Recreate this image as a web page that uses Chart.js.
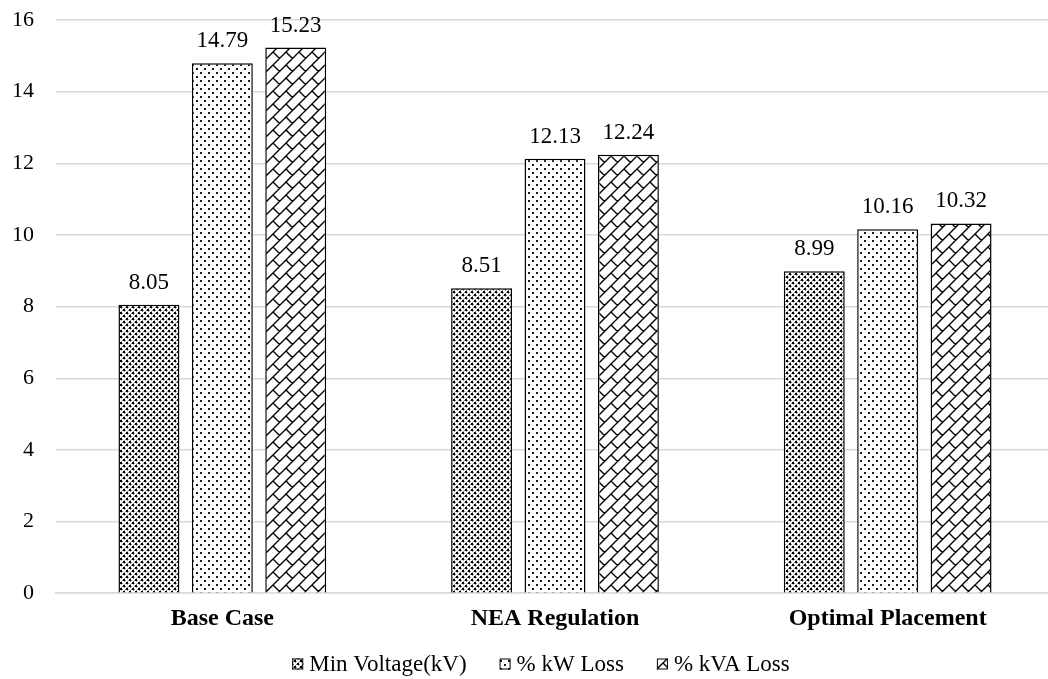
<!DOCTYPE html>
<html>
<head>
<meta charset="utf-8">
<script src="https://cdn.jsdelivr.net/npm/chart.js@4/dist/chart.umd.min.js"></script>
<style>
  html, body { margin: 0; padding: 0; background: #ffffff; overflow: hidden; }
  #wrap { width: 1048px; height: 679px; overflow: hidden; }
</style>
</head>
<body>
<div id="wrap"><canvas id="chart" width="1054" height="679"></canvas></div>
<script>
const categories = ['Base Case', 'NEA Regulation', 'Optimal Placement'];
const seriesNames = ['Min Voltage(kV)', '% kW Loss', '% kVA Loss'];
const minVoltage = [8.05, 8.51, 8.99];
const kwLoss = [14.79, 12.13, 10.16];
const kvaLoss = [15.23, 12.24, 10.32];
const yTicks = [0, 2, 4, 6, 8, 10, 12, 14, 16];

const FONT = '"Liberation Serif", "Times New Roman", serif';

function tile(size, draw) {
  const c = document.createElement('canvas');
  c.width = size; c.height = size;
  const g = c.getContext('2d');
  g.fillStyle = '#ffffff';
  g.fillRect(0, 0, size, size);
  draw(g, size);
  return document.getElementById('chart').getContext('2d').createPattern(c, 'repeat');
}

// dense checker lattice
const checkerFill = tile(6, (g) => {
  g.fillStyle = '#000000';
  g.fillRect(0, 0, 2, 2);
  g.fillRect(3, 3, 2, 2);
  g.fillStyle = '#8a8a8a';
  [[2, 1], [1, 2], [5, 4], [4, 5], [2, 4], [4, 2], [5, 1], [1, 5]].forEach(([x, y]) => g.fillRect(x, y, 1, 1));
});

// sparse staggered dots
const dotFill = tile(8, (g) => {
  g.fillStyle = '#1a1a1a';
  g.fillRect(0, 0, 2, 2);
  g.fillRect(4, 4, 2, 2);
});

// diagonal weave: rising lines with staggered short cross ticks
const weaveFill = tile(26, (g) => {
  g.strokeStyle = '#000000';
  g.lineWidth = 1.4;
  g.beginPath();
  for (let k = -3; k <= 6; k++) {
    const s = 13 * k;
    g.moveTo(s + 30, -30);
    g.lineTo(s - 30, 30);
    for (let a = -52; a <= 78; a += 13) {
      const x = a, y = s - a;
      g.moveTo(x, y);
      g.lineTo(x + 6.5, y + 6.5);
    }
  }
  g.stroke();
});

const valueLabels = {
  id: 'valueLabels',
  afterDatasetsDraw(chart) {
    const ctx = chart.ctx;
    ctx.save();
    ctx.font = '23px ' + FONT;
    ctx.fillStyle = '#000000';
    ctx.textAlign = 'center';
    ctx.textBaseline = 'alphabetic';
    chart.data.datasets.forEach((ds, i) => {
      const meta = chart.getDatasetMeta(i);
      meta.data.forEach((bar, j) => {
        ctx.fillText(ds.data[j].toFixed(2), bar.x, bar.y - 16);
      });
    });
    ctx.restore();
  }
};

// single-row legend under the axis: small patterned box, tight gap, label
const bottomLegend = {
  id: 'bottomLegend',
  afterDraw(chart) {
    const ctx = chart.ctx;
    const box = 11, gap = 6, itemGap = 33, cy = 664, centerX = 541;
    ctx.save();
    ctx.font = '23px ' + FONT;
    ctx.textBaseline = 'middle';
    ctx.textAlign = 'left';
    const items = chart.data.datasets.map(ds => ({ ds, w: ctx.measureText(ds.label).width }));
    const total = items.reduce((s, it) => s + box + gap + it.w, 0) + itemGap * (items.length - 1);
    let x = centerX - total / 2;
    items.forEach(({ ds, w }) => {
      ctx.fillStyle = ds.backgroundColor;
      ctx.fillRect(x, cy - box / 2, box, box);
      ctx.strokeStyle = '#000000';
      ctx.lineWidth = 1;
      ctx.strokeRect(x + 0.5, cy - box / 2 + 0.5, box - 1, box - 1);
      ctx.fillStyle = '#000000';
      ctx.fillText(ds.label, x + box + gap, cy + 1);
      x += box + gap + w + itemGap;
    });
    ctx.restore();
  }
};

const fills = [checkerFill, dotFill, weaveFill];
const values = [minVoltage, kwLoss, kvaLoss];

new Chart(document.getElementById('chart'), {
  type: 'bar',
  data: {
    labels: categories,
    datasets: seriesNames.map((name, i) => ({
      label: name,
      data: values[i],
      backgroundColor: fills[i],
      borderColor: '#000000',
      borderWidth: 1.5,
      categoryPercentage: 0.662,
      barPercentage: 0.83
    }))
  },
  options: {
    responsive: false,
    animation: false,
    devicePixelRatio: 1,
    layout: { padding: { top: 20, right: 0, left: 0, bottom: 43 } },
    plugins: {
      legend: { display: false },
      tooltip: { enabled: false }
    },
    scales: {
      x: {
        grid: { display: false },
        border: { display: true, color: '#d9d9d9', width: 1.5 },
        ticks: {
          font: { family: FONT, size: 24, weight: 'bold' },
          color: '#000000',
          padding: 3
        }
      },
      y: {
        min: 0,
        max: 16,
        afterBuildTicks(scale) { scale.ticks = yTicks.map(v => ({ value: v })); },
        afterFit(scale) {
          scale.width = 56;
          scale.paddingTop = 0;
          scale.paddingBottom = 0;
        },
        grid: { color: '#d9d9d9', lineWidth: 1.5, drawTicks: false },
        border: { display: false },
        ticks: {
          font: { family: FONT, size: 22 },
          color: '#000000',
          padding: 22
        }
      }
    }
  },
  plugins: [valueLabels, bottomLegend]
});
</script>
</body>
</html>
